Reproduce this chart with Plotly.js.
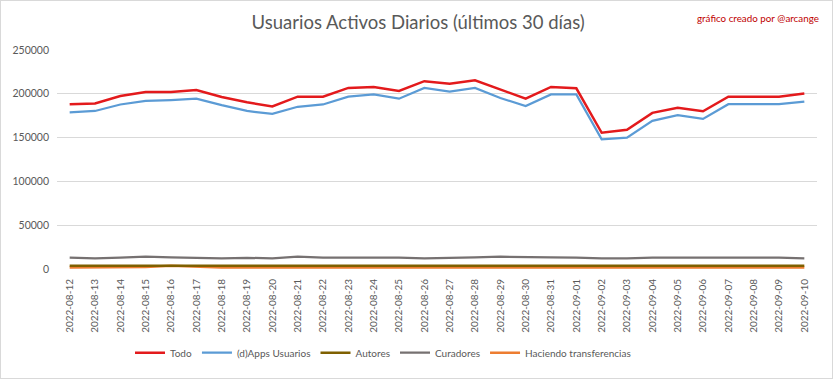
<!DOCTYPE html>
<html>
<head>
<meta charset="utf-8">
<script src="https://cdn.plot.ly/plotly-3.0.1.min.js"></script>
<style>
html,body{margin:0;padding:0;background:#fff;}
#wrap{position:relative;width:833px;height:379px;}
#chart{position:absolute;left:0;top:0;width:833px;height:379px;}
#frame{position:absolute;left:0;top:0;width:833px;height:379px;box-sizing:border-box;border:1px solid #d9d9d9;pointer-events:none;}
</style>
</head>
<body>
<div id="wrap"><div id="chart"></div><div id="frame"></div></div>
<script>
const dates = ["2022-08-12","2022-08-13","2022-08-14","2022-08-15","2022-08-16","2022-08-17","2022-08-18","2022-08-19","2022-08-20","2022-08-21","2022-08-22","2022-08-23","2022-08-24","2022-08-25","2022-08-26","2022-08-27","2022-08-28","2022-08-29","2022-08-30","2022-08-31","2022-09-01","2022-09-02","2022-09-03","2022-09-04","2022-09-05","2022-09-06","2022-09-07","2022-09-08","2022-09-09","2022-09-10"];
const todo = [188000,189000,197400,202000,202000,204400,196300,190300,185500,196700,196700,206700,207800,203300,214400,211500,215500,204800,194400,207800,206300,155500,158900,178200,184100,180000,196700,196700,196700,200300];
const dapps = [178900,180400,187800,191800,192900,194400,187000,180400,177000,185200,187800,196700,199300,194400,206700,202600,206700,195200,186000,199300,199300,148100,150000,169200,175500,171400,188100,188100,188100,191100];
const autores = [3600,3600,3600,3600,3700,3600,3600,3600,3600,3600,3600,3600,3600,3600,3600,3600,3600,3600,3600,3600,3600,3600,3600,3600,3600,3600,3600,3600,3600,3600];
const curadores = [13000,12000,13000,14000,13200,13000,12000,12800,12000,14000,13000,13000,13000,13000,12000,13000,13200,14000,14000,13200,13000,12000,12000,13000,13000,13000,13000,13000,13000,12000];
const transfer = [1600,1600,1700,2200,3600,2200,1600,1600,1600,1600,1600,1600,1600,1600,1600,1600,1600,1600,1600,1600,1600,1600,1600,1600,1600,1600,1600,1600,1600,1600];

const FONT = "Lato, 'Open Sans', sans-serif";

const traces = [
  {name:"Todo", y:todo, color:"#e31a1c", w:2.5},
  {name:"(d)Apps Usuarios", y:dapps, color:"#5b9bd5", w:2.25},
  {name:"Autores", y:autores, color:"#7f6000", w:2.5},
  {name:"Curadores", y:curadores, color:"#767171", w:2.25},
  {name:"Haciendo transferencias", y:transfer, color:"#ed7d31", w:2.5}
].map((s,i) => ({
  type:"scatter", mode:"lines", name:s.name, x:dates, y:s.y, legendrank:i+1,
  line:{color:s.color, width:s.w}
}));
const order = [traces[4], traces[3], traces[2], traces[1], traces[0]];

const layout = {
  width:833, height:379,
  margin:{l:57, r:16, t:50, b:104},
  paper_bgcolor:"#fff", plot_bgcolor:"#fff",
  font:{family:FONT, color:"#595959", size:10.5},
  title:{text:"Usuarios Activos Diarios (últimos 30 días)", x:0.502, xanchor:"center", y:0.94, yanchor:"middle",
         font:{family:FONT, size:18.5, color:"#595959"}},
  xaxis:{type:"category", range:[-0.5, 29.5], tickangle:-90, showgrid:false, zeroline:false, showline:false,
         ticks:"outside", ticklen:5, tickcolor:"rgba(0,0,0,0)", tickfont:{family:FONT, size:10, color:"#595959"}, fixedrange:true},
  yaxis:{range:[0,250000], dtick:50000, tickformat:"d", showgrid:true, gridcolor:"#d9d9d9", gridwidth:1,
         zeroline:false, showline:false, ticks:"", ticklabelstandoff:7, tickfont:{family:FONT, size:10.5, color:"#595959"}, fixedrange:true},
  showlegend:true,
  legend:{orientation:"h", x:(130-57)/760, xanchor:"left", y:-0.382, yanchor:"middle",
          font:{family:FONT, size:10, color:"#595959"}, traceorder:"normal", itemwidth:30},
  annotations:[{text:"gráfico creado por @arcange", xref:"paper", yref:"paper", x:1.005, y:1.148,
                xanchor:"right", yanchor:"middle", showarrow:false,
                font:{family:FONT, size:9.8, color:"#c00000"}}]
};

Plotly.newPlot("chart", order, layout, {displayModeBar:false, staticPlot:true});
</script>
</body>
</html>
